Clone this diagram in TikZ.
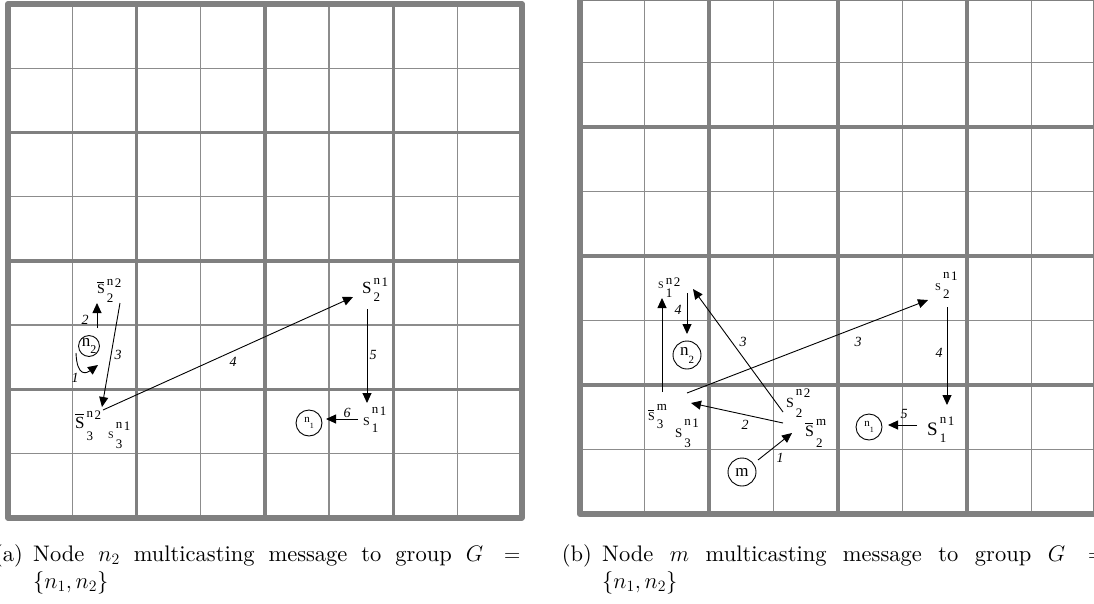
\RequirePackage{fix-cm}
\documentclass[tikz,border=0pt]{standalone}
\usepackage{fontspec}
\newfontfamily\tms{Liberation Serif}
\newfontfamily\capfont{lmroman10-regular.otf}
\usetikzlibrary{arrows.meta}
\definecolor{gthick}{RGB}{128,128,128}
\definecolor{gthin}{RGB}{140,140,140}
% #1 size of base, #2 base, #3 sup letter, #4 sup digit, #5 sub, #6 raise, #7 lower
\newcommand\lbl[7]{{\tms\fontsize{#1}{#1}\selectfont #2}\hspace{2pt}\rlap{\raisebox{-#7pt}{\tms\fontsize{13}{13}\selectfont #5}}\raisebox{#6pt}{\tms\fontsize{13}{13}\selectfont #3\hspace{1.5pt}\raisebox{-2pt}{#4}}}
\newcommand\bS{\rlap{\rule[0.74em]{0.5em}{1pt}}S}
\newcommand\sudoku[3]{%
  \foreach \i in {1,3,5,7}{%
    \draw[thinl] ({#1+#3*\i},#2) -- ({#1+#3*\i},{#2+8*#3});
    \draw[thinl] (#1,{#2+#3*\i}) -- ({#1+8*#3},{#2+#3*\i});}
  \foreach \i in {2,6}{%
    \draw[quarl] ({#1+#3*\i},#2) -- ({#1+#3*\i},{#2+8*#3});
    \draw[quarl] (#1,{#2+#3*\i}) -- ({#1+8*#3},{#2+#3*\i});}
  \draw[cenl] ({#1+4*#3},#2) -- ({#1+4*#3},{#2+8*#3});
  \draw[cenl] (#1,{#2+4*#3}) -- ({#1+8*#3},{#2+4*#3});
  \draw[outl] (#1,#2) rectangle ({#1+8*#3},{#2+8*#3});}
\begin{document}
\begin{tikzpicture}[x=1pt,y=-1pt,
  thinl/.style={draw=gthin,line width=1.1pt},
  quarl/.style={draw=gthick,line width=3.3pt},
  cenl/.style={draw=gthick,line width=4.5pt},
  outl/.style={draw=gthick,line width=6pt,line join=round},
  arr/.style={draw=black,line width=0.9pt,-{Triangle[length=10pt,width=9pt]}},
  circ/.style={draw=black,circle,line width=0.9pt,inner sep=0pt},
  lab/.style={inner sep=0pt,anchor=base west},
  elab/.style={inner sep=0pt,font=\tms\itshape\fontsize{14}{14}\selectfont},
  captxt/.style={inner sep=0pt,font=\capfont\fontsize{22.5}{27}\selectfont}]
\useasboundingbox (0,0) rectangle (1094,603);
\clip (0,0) rectangle (1094,603);
\fill[white] (0,0) rectangle (1094,603);

% grids
\sudoku{8}{4}{64.2}
\sudoku{580}{-2}{64.5}

% ---------- left picture ----------
\node[lab] (L1) at (97,293) {\lbl{14}{\bS}{n}{2}{2}{8}{9}};
\node[lab] (L2) at (75,428) {\lbl{17}{\bS}{n}{2}{3}{11}{12}};
\node[lab] (L3) at (108,438) {\lbl{10}{S}{n}{1}{3}{10}{10}};
\node[lab] (L4) at (362,293) {\lbl{17}{S}{n}{1}{2}{9}{8}};
\node[lab] (L5) at (363,425) {\lbl{12}{S}{n}{1}{1}{12}{7}};
\node[circ,minimum size=20pt] (n2L) at (89,346) {\tms\fontsize{17}{17}\selectfont n\raisebox{-7pt}{\fontsize{12}{12}\selectfont 2}};
\node[circ,minimum size=26pt] (n1L) at (309,423) {\tms\fontsize{11}{11}\selectfont n\raisebox{-6pt}{\fontsize{8}{8}\selectfont 1}};

\coordinate (a2s) at (97,328);  \coordinate (a2e) at (97,303);
\coordinate (a1s) at (76,353);  \coordinate (a1e) at (98,365);
\coordinate (a3s) at (120,303); \coordinate (a3e) at (102,407);
\coordinate (a4s) at (103,410); \coordinate (a4e) at (353,297);
\coordinate (a5s) at (367,309); \coordinate (a5e) at (367,403);
\coordinate (a6s) at (358,419); \coordinate (a6e) at (326,419);
\draw[arr] (a2s) -- (a2e);
\draw[arr] (a1s) .. controls (77,378) and (87,373) .. (a1e);
\draw[arr] (a3s) -- (a3e);
\draw[arr] (a4s) -- (a4e);
\draw[arr] (a5s) -- (a5e);
\draw[arr] (a6s) -- (a6e);
\node[elab] (t2L) at (85,320) {2};
\node[elab] (t1L) at (75,378) {1};
\node[elab] (t3L) at (118,355) {3};
\node[elab] (t4L) at (233,362) {4};
\node[elab] (t5L) at (373,355) {5};
\node[elab] (t6L) at (347,413) {6};

% ---------- right picture ----------
\node[lab] (R1) at (658,288) {\lbl{10}{S}{n}{2}{1}{4}{9}};
\node[lab] (R2) at (648,420) {\lbl{12}{\bS}{m}{}{3}{10}{8}};
\node[lab] (R3) at (675,437) {\lbl{13}{S}{n}{1}{3}{12}{10}};
\node[lab] (R4) at (786,407) {\lbl{14}{S}{n}{2}{2}{12}{10}};
\node[lab] (R5) at (805,436) {\lbl{16}{\bS}{m}{}{2}{11}{11}};
\node[lab] (R6) at (935,290) {\lbl{10.5}{S}{n}{1}{2}{12}{8}};
\node[lab] (R7) at (927,435) {\lbl{19}{S}{n}{1}{1}{12}{7}};
\node[circ,minimum size=28pt] (n2R) at (687,355) {\tms\fontsize{17}{17}\selectfont n\raisebox{-8pt}{\fontsize{11}{11}\selectfont 2}};
\node[circ,minimum size=28pt] (mR) at (742,472) {\tms\fontsize{17}{17}\selectfont m};
\node[circ,minimum size=26pt] (n1R) at (869,427) {\tms\fontsize{11}{11}\selectfont n\raisebox{-6pt}{\fontsize{8}{8}\selectfont 1}};

\coordinate (b0s) at (662,392); \coordinate (b0e) at (662,298);
\coordinate (b4s) at (687,293); \coordinate (b4e) at (687,334);
\coordinate (b3s) at (687,393); \coordinate (b3e) at (928,300);
\coordinate (c3s) at (783,412); \coordinate (c3e) at (693,289);
\coordinate (b2s) at (783,423); \coordinate (b2e) at (691,403);
\coordinate (b1s) at (758,460); \coordinate (b1e) at (792,433);
\coordinate (c4s) at (947,307); \coordinate (c4e) at (947,405);
\coordinate (b5s) at (917,425); \coordinate (b5e) at (888,425);
\draw[arr] (b0s) -- (b0e);
\draw[arr] (b4s) -- (b4e);
\draw[arr] (b3s) -- (b3e);
\draw[arr] (c3s) -- (c3e);
\draw[arr] (b2s) -- (b2e);
\draw[arr] (b1s) -- (b1e);
\draw[arr] (c4s) -- (c4e);
\draw[arr] (b5s) -- (b5e);
\node[elab] (t4R) at (678,310) {4};
\node[elab] (t3Ra) at (743,342) {3};
\node[elab] (t3Rb) at (858,342) {3};
\node[elab] (t2R) at (745,425) {2};
\node[elab] (t1R) at (780,458) {1};
\node[elab] (t4Rb) at (939,353) {4};
\node[elab] (t5R) at (904,414) {5};

% ---------- captions ----------
\node[captxt,anchor=base east] (capa) at (23,561) {(a)};
\node[captxt,anchor=base west] (capa1) at (33,561) {\makebox[450pt][s]{Node $n_2$ multicasting message to group $G$}\hspace{21pt}$=$};
\node[captxt,anchor=base west] (capa2) at (33,588) {$\{n_1,n_2\}$};
\node[captxt,anchor=base east] (capb) at (592,561) {(b)};
\node[captxt,anchor=base west] (capb1) at (602,561) {\makebox[463pt][s]{Node $m$ multicasting message to group $G$}\hspace{23pt}$=$};
\node[captxt,anchor=base west] (capb2) at (602,588) {$\{n_1,n_2\}$};
\end{tikzpicture}
\end{document}
